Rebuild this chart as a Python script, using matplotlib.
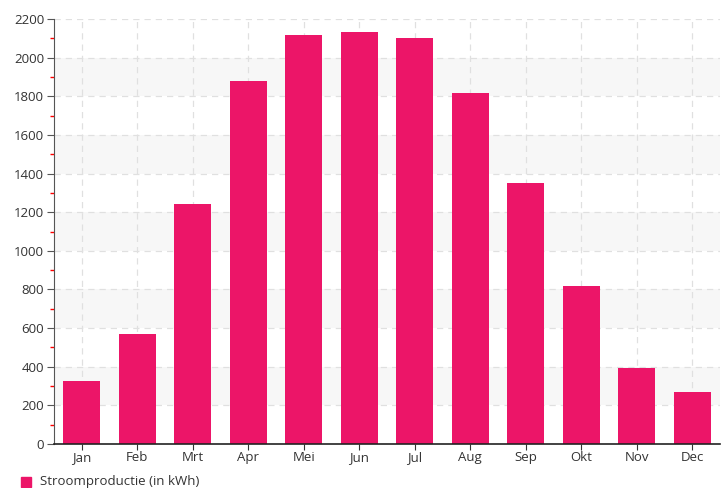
import numpy as np
import matplotlib.pyplot as plt
from matplotlib.patches import Rectangle

months = ['Jan', 'Feb', 'Mrt', 'Apr', 'Mei', 'Jun', 'Jul', 'Aug', 'Sep', 'Okt', 'Nov', 'Dec']
kwh = [326, 569, 1242, 1879, 2117, 2132, 2101, 1817, 1351, 818, 393, 269]
yticks = list(range(0, 2201, 200))
label = 'Stroomproductie (in kWh)'

color = '#EC1568'
plt.rcParams['font.family'] = ['Open Sans', 'DejaVu Sans']
fs = 9.5

fig = plt.figure(figsize=(7.22, 4.88), dpi=100)
ax = fig.add_axes([54/722, 44/488, 666/722, 425/488])

x = np.arange(len(months))
ax.set_xlim(-0.5, len(months) - 0.5)
ax.set_ylim(0, 2200)

# alternating bands
for lo in range(200, 2200, 400):
    ax.axhspan(lo, lo + 200, color='#f7f7f7', zorder=0, lw=0)

ax.grid(True, which='major', color='#e0e0e0', linestyle=(0, (5, 4)), lw=0.9, zorder=0.5)
ax.set_axisbelow(True)

ax.bar(x, kwh, width=0.67, color=color, zorder=2)

ax.set_xticks(x)
ax.set_xticklabels(months, fontsize=fs, color='#333333')
ax.set_yticks(yticks)
ax.set_yticklabels([str(v) for v in yticks], fontsize=fs, color='#333333')
ax.set_yticks(list(range(100, 2200, 200)), minor=True)
ax.tick_params(axis='y', which='minor', length=3, color='red', width=1)
ax.tick_params(axis='y', which='major', length=5, color='#555555', pad=2)
ax.tick_params(axis='x', length=4, color='#333333', pad=1)

for s in ['top', 'right']:
    ax.spines[s].set_visible(False)
ax.spines['left'].set_color('#555555')
ax.spines['bottom'].set_color('#222222')
ax.spines['bottom'].set_linewidth(1.2)

# legend
fig.patches.append(Rectangle((21/722, 1/488), 10/722, 10/488,
                             transform=fig.transFigure, color=color))
fig.text(40/722, 1 - 481/488, label, fontsize=fs, color='#333333', va='center')

fig.savefig('out.png', dpi=100)
